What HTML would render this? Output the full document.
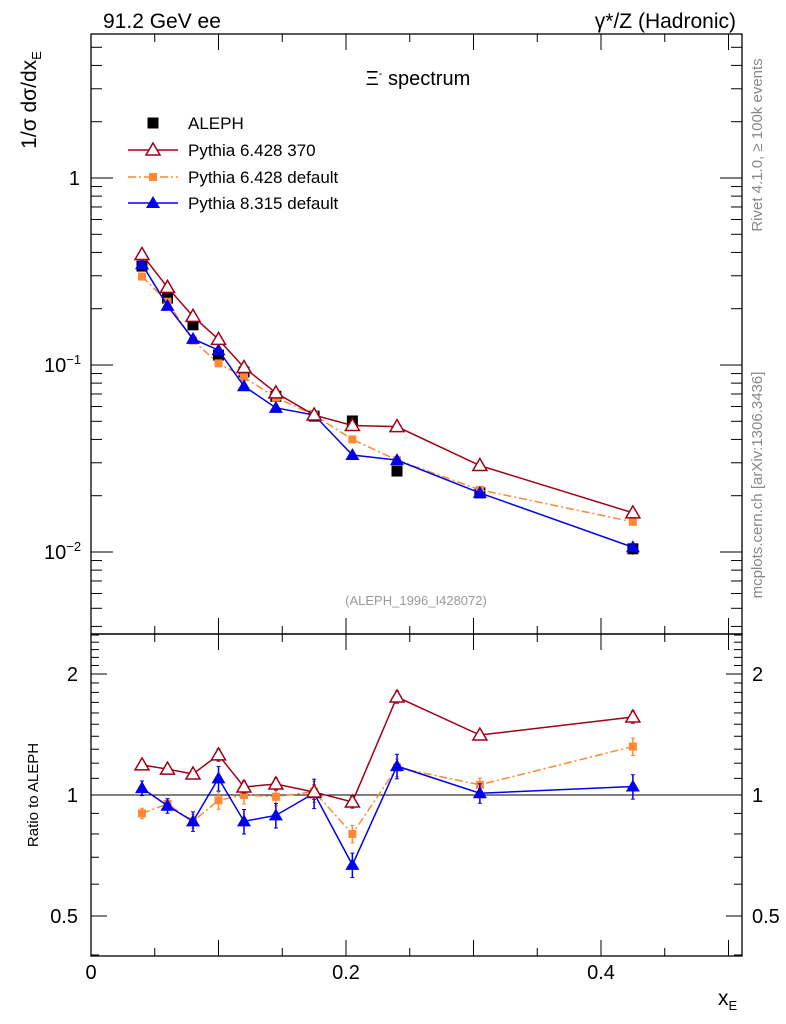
<!DOCTYPE html>
<html><head><meta charset="utf-8"><style>
body{margin:0;background:#fff}
svg{display:block;font-family:"Liberation Sans",sans-serif}
</style></head><body>
<svg id="c" width="786" height="1024" xmlns="http://www.w3.org/2000/svg">
<text x="103" y="28" font-size="21">91.2 GeV ee</text>
<text x="736" y="28" font-size="21" text-anchor="end">γ*/Z (Hadronic)</text>
<text x="418" y="85" font-size="20" text-anchor="middle">Ξ<tspan font-size="11" dy="-8">-</tspan><tspan dy="8"> spectrum</tspan></text>
<text x="416" y="605" font-size="13" fill="#999" text-anchor="middle">(ALEPH_1996_I428072)</text>
<text transform="translate(762,145) rotate(-90)" font-size="15" fill="#888" text-anchor="middle">Rivet 4.1.0, ≥ 100k events</text>
<text transform="translate(762,485) rotate(-90)" font-size="15" fill="#888" text-anchor="middle">mcplots.cern.ch [arXiv:1306.3436]</text>
<text transform="translate(36,100) rotate(-90)" font-size="21" text-anchor="middle">1/σ   dσ/dx<tspan font-size="13" dy="5">E</tspan></text>
<text transform="translate(38,795) rotate(-90)" font-size="15" text-anchor="middle">Ratio to ALEPH</text>
<text x="718" y="1005" font-size="21">x<tspan font-size="13" dy="5">E</tspan></text>
<g id="g"></g>
</svg>
<script>
const xs=[0.04,0.06,0.08,0.1,0.12,0.145,0.175,0.205,0.24,0.305,0.425];
const aleph=[0.338,0.228,0.164,0.113,0.0918,0.068,0.0533,0.0502,0.0271,0.0207,0.0104];
const alephErr=[0.03,0.03,0.04,0.05,0.06,0.06,0.06,0.05,0.06,0.06,0.07];
const py6370=[0.39,0.26,0.182,0.137,0.097,0.071,0.054,0.0475,0.0468,0.029,0.0162];
const py6def=[0.297,0.218,0.135,0.102,0.086,0.067,0.054,0.040,0.031,0.0215,0.0145];
const py8=[0.346,0.207,0.138,0.12,0.077,0.059,0.054,0.033,0.031,0.0207,0.0106];
const r6370=[1.188,1.16,1.128,1.258,1.047,1.065,1.017,0.961,1.753,1.41,1.563];
const r6def=[0.90,0.95,0.86,0.97,1.0,0.99,1.02,0.80,1.17,1.06,1.32];
const r8=[1.04,0.94,0.86,1.1,0.86,0.89,1.01,0.67,1.18,1.01,1.05];
const mcErr=[0.03,0.03,0.04,0.05,0.05,0.05,0.06,0.05,0.05,0.04,0.05];
const xTicks=[0,0.2,0.4];
const ratioTicks=[0.5,1,2];

const NS="http://www.w3.org/2000/svg",g=document.getElementById('g');
const L=91,R=742,T=34,M=634,B=956;
const X=v=>91+v*1275;
const Y=v=>178-187*Math.log10(v);
const YR=v=>795-121*Math.log2(v);
function el(t,a,p){const e=document.createElementNS(NS,t);for(const k in a)e.setAttribute(k,a[k]);(p||g).appendChild(e);return e;}
let f=el('rect',{x:L,y:T,width:R-L,height:M-T,fill:'none',stroke:'#000','stroke-width':1.3});


f=el('rect',{x:L,y:M,width:R-L,height:B-M,fill:'none',stroke:'#000','stroke-width':1.3});


for(let d=-3;d<=0;d++)for(let m=1;m<=9;m++){const v=m*Math.pow(10,d);const y=Y(v);if(y<T||y>M)continue;const len=m==1?22:11;
 el('line',{x1:L,x2:L+len,y1:y,y2:y,stroke:'#000'});el('line',{x1:R,x2:R-len,y1:y,y2:y,stroke:'#000'});}
const yl=[[1,'1'],[0.1,'10'],[0.01,'10']];
yl.forEach(([v,s],i)=>{const t=el('text',{x:80,y:Y(v)+7,'font-size':20,'text-anchor':'end'});
 
 
 if(i){t.setAttribute('x',44);t.setAttribute('text-anchor','start');const a=el('tspan',{},t);a.textContent='10';const b=el('tspan',{dy:-8,'font-size':13},t);b.textContent=i==1?'−1':'−2';}
 else t.textContent=s;});
for(let k=4;k<=25;k++){const v=k/10;const y=YR(v);if(y<M||y>B)continue;const maj=(k==5||k==10||k==20);const len=maj?16:8;
 el('line',{x1:L,x2:L+len,y1:y,y2:y,stroke:'#000'});el('line',{x1:R,x2:R-len,y1:y,y2:y,stroke:'#000'});}
ratioTicks.forEach(v=>{[[78,'end'],[752,'start']].forEach(([x,a])=>{const t=el('text',{x:x,y:YR(v)+7,'font-size':20,'text-anchor':a});
 
 
 t.textContent=String(v);});});
el('line',{x1:L,x2:R,y1:YR(1),y2:YR(1),stroke:'#000'});
for(let i=0;i<=10;i++){const v=i*0.05,x=X(v);if(x>R)break;const len=i%2==0?16:8;
 [[T,1],[M,-1],[M,1],[B,-1]].forEach(([y0,s])=>el('line',{x1:x,x2:x,y1:y0,y2:y0+s*len,stroke:'#000'}));}
xTicks.forEach(v=>{const t=el('text',{x:X(v),y:979,'font-size':20,'text-anchor':'middle'});
 
 
 t.textContent=String(v);});
function marker(type,x,y,c,name){let e;
 if(type=='sq')e=el('rect',{x:x-5.5,y:y-5.5,width:11,height:11,fill:c});
 else if(type=='sqs')e=el('rect',{x:x-4,y:y-4,width:8,height:8,fill:c});
 else if(type=='tri')e=el('path',{d:`M${x},${y-7}L${x+7},${y+5}L${x-7},${y+5}Z`,fill:'#fff',stroke:c,'stroke-width':1.5});
 else e=el('path',{d:`M${x},${y-7}L${x+7},${y+5}L${x-7},${y+5}Z`,fill:c});
 
 }
function series(vals,fy,c,dash,type,name,errs){
 const p=el('polyline',{points:vals.map((v,i)=>X(xs[i])+','+fy(v)).join(' '),fill:'none',stroke:c,'stroke-width':1.5,'stroke-dasharray':dash||'none'});
 
 
 vals.forEach((v,i)=>{const x=X(xs[i]),e=errs[i];el('line',{x1:x,x2:x,y1:fy(v*(1+e)),y2:fy(v*(1-e)),stroke:c,'stroke-width':1.5});
  el('line',{x1:x-2,x2:x+2,y1:fy(v*(1+e)),y2:fy(v*(1+e)),stroke:c});el('line',{x1:x-2,x2:x+2,y1:fy(v*(1-e)),y2:fy(v*(1-e)),stroke:c});
  marker(type,x,fy(v),c,name+'-point');});}
aleph.forEach((v,i)=>{const x=X(xs[i]);el('line',{x1:x,x2:x,y1:Y(v*(1+alephErr[i])),y2:Y(v*(1-alephErr[i])),stroke:'#000'});marker('sq',x,Y(v),'#000','aleph-point');});
series(py6def,Y,'#ff8833','8,3,2,3','sqs','pythia6-default',mcErr.map(e=>e*0.5));
series(py8,Y,'#0000ee',null,'ftri','pythia8',mcErr.map(e=>e*0.5));
series(py6370,Y,'#a00018',null,'tri','pythia6-370',mcErr.map(e=>e*0.3));
series(r6def,YR,'#ff8833','8,3,2,3','sqs','ratio-pythia6-default',mcErr);
series(r8,YR,'#0000ee',null,'ftri','ratio-pythia8',mcErr.map(e=>e*1.4));
series(r6370,YR,'#a00018',null,'tri','ratio-pythia6-370',mcErr.map(e=>e*0.7));
const leg=[['ALEPH','#000','sq',null,123],['Pythia 6.428 370','#a00018','tri',null,150],['Pythia 6.428 default','#ff8833','sqs','8,3,2,3',177],['Pythia 8.315 default','#0000ee','ftri',null,203]];
leg.forEach(([t,c,m,d,y],i)=>{if(i){const l=el('line',{x1:128,x2:178,y1:y,y2:y,stroke:c,'stroke-width':1.5,'stroke-dasharray':d||'none'});
 
 }
 marker(m,153,y,c,'legend-marker');
 const tx=el('text',{x:188,y:y+6,'font-size':17});
 
 
 tx.textContent=t;});
</script>
</body></html>
